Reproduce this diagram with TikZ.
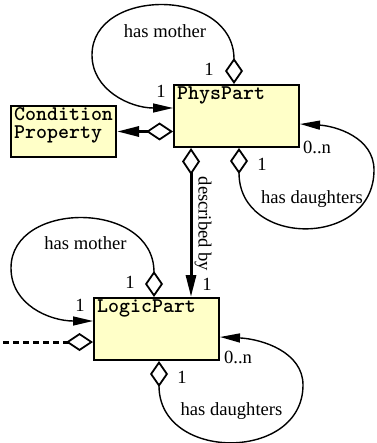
\documentclass[tikz,border=0pt]{standalone}
\usepackage{fontspec}
\setmainfont{Liberation Serif}
\usetikzlibrary{arrows.meta}
\definecolor{partfill}{RGB}{255,255,200}
\begin{document}
\begin{tikzpicture}[x=1pt,y=-1pt,
  every node/.style={font=\fontsize{18.6}{18}\selectfont},
  part/.style={draw, line width=2pt, fill=partfill, inner sep=0pt},
  title/.style={font=\fontsize{20.9}{18}\selectfont\ttfamily\bfseries,
    inner xsep=4pt, inner ysep=3pt, align=left},
  agg/.style={{Diamond[open,length=26pt,width=18pt,line width=1.8pt]}-{Triangle[length=20pt,width=9pt]}},
  loop/.style={agg, line width=1.4pt},
  strong/.style={line width=3pt,
    {Diamond[open,length=27pt,width=18pt,line width=1.8pt]}-{Triangle[length=22pt,width=10pt]}},
  offlink/.style={line width=3pt, dash pattern=on 6pt off 4pt,
    {Diamond[open,length=27pt,width=18pt,line width=1.8pt]}-}
]
\useasboundingbox (0,0) rectangle (376,443);

% classes
\node[part, minimum width=125pt, minimum height=62pt,
  label={[title,anchor=north west]north west:PhysPart}] (phys) at (236.5,116) {};
\node[part, minimum width=105pt, minimum height=51pt,
  label={[title,anchor=north west,inner ysep=2pt]north west:{Condition\\Property}}] (cond) at (63.5,131.5) {};
\node[part, minimum width=125pt, minimum height=62pt,
  label={[title,anchor=north west]north west:LogicPart}] (logic) at (156.5,329) {};

% PhysPart: has mother
\draw[loop] ([xshift=-2.5pt]phys.north) .. controls (234,-13) and (92,-13) .. (92,55)
  .. controls (92,90) and (130,108) .. ([yshift=8pt]phys.west);
% PhysPart: has daughters
\draw[loop] ([xshift=2.5pt]phys.south) .. controls (239,248) and (374,248) .. (374,170)
  .. controls (374,137) and (335,126) .. ([yshift=-8pt]phys.east);
% PhysPart -> Condition Property
\draw[strong] (phys.west |- cond.east) -- (cond.east);
% PhysPart described by LogicPart
\draw[strong] ([xshift=-45.5pt]phys.south) -- node[pos=0.51, sloped, above, inner sep=2pt] (descr) {described by} ([xshift=34.5pt]logic.north);

% LogicPart: has mother
\draw[loop] ([xshift=-2.5pt]logic.north) .. controls (154,200) and (11,200) .. (11,268)
  .. controls (11,305) and (50,321) .. ([yshift=8pt]logic.west);
% LogicPart: has daughters
\draw[loop] ([xshift=2.5pt]logic.south) .. controls (159,462) and (303,462) .. (303,385)
  .. controls (303,352) and (262,339) .. ([yshift=-8pt]logic.east);
% LogicPart: link leaving the page
\coordinate (offpage) at (0,342);
\draw[offlink] ([yshift=-13pt]logic.west) -- (offpage);

% relation names
\node (pmother) at (165,31) {has mother};
\node (pdaught) at (312,199) {has daughters};
\node (lmother) at (85.5,243) {has mother};
\node (ldaught) at (231.5,411) {has daughters};

% multiplicities
\node (pm1) at (209,69) {1};
\node (pm2) at (161,91) {1};
\node (pd1) at (262,164) {1};
\node (pdn) at (317,147) {0..n};
\node (dby) at (207,284) {1};
\node (lm1) at (130,282) {1};
\node (lm2) at (80,305) {1};
\node (ld1) at (182,377) {1};
\node (ldn) at (238,357) {0..n};
\end{tikzpicture}
\end{document}
